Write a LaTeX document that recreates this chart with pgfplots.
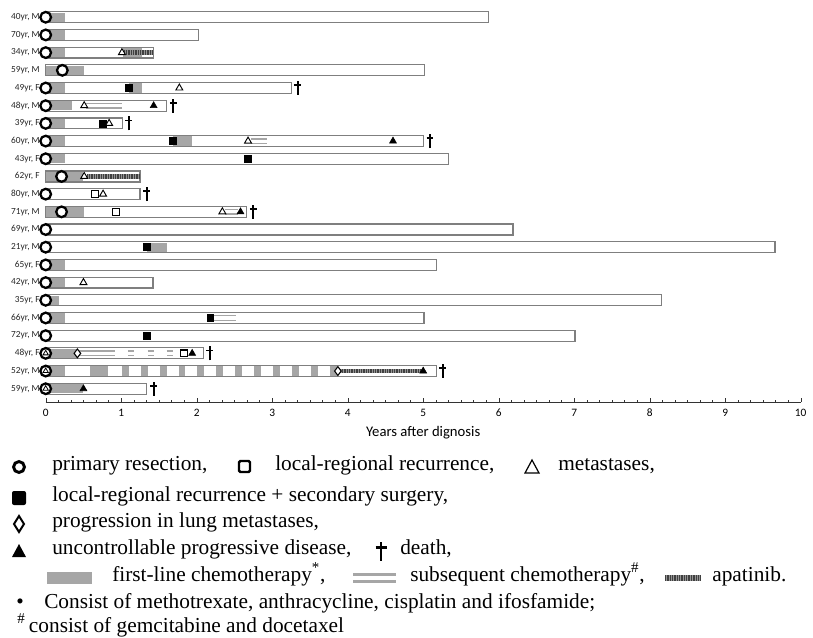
\documentclass[border=0pt]{standalone}
\usepackage{fontspec}
\setmainfont{Liberation Serif}
\newfontfamily\calfont{Carlito}
\usepackage{pgfplots}
\pgfplotsset{compat=1.18}
\definecolor{chemo}{HTML}{A6A6A6}
\definecolor{barline}{HTML}{7F7F7F}
\pgfdeclareplotmark{dagger}{%
  \pgfsetbuttcap
  \pgfsetlinewidth{1.5pt}%
  \pgfpathmoveto{\pgfqpoint{0pt}{-5.2pt}}%
  \pgfpathlineto{\pgfqpoint{0pt}{5.2pt}}%
  \pgfusepathqstroke
  \pgfsetlinewidth{1.2pt}%
  \pgfpathmoveto{\pgfqpoint{-2.6pt}{2.2pt}}%
  \pgfpathlineto{\pgfqpoint{2.6pt}{2.2pt}}%
  \pgfusepathqstroke}
\begin{document}
\begin{tikzpicture}
\path[use as bounding box] (0,0) rectangle (609.75pt,-478.5pt);
\begin{axis}[
  at={(34.275pt,-301.5pt)}, anchor=south west,
  scale only axis, width=566.25pt, height=295.2pt,
  xmin=0, xmax=10, ymin=0.25, ymax=22.5,
  axis lines*=left, axis line style={-, black!80},
  y axis line style={draw=none},
  xtick={0,...,10}, minor x tick num=5,
  tick align=inside, major tick length=3pt, minor tick length=1.8pt,
  tick style={black!80},
  ytick={1,...,22}, ytick style={draw=none},
  yticklabels={{59yr, M},{52yr, M},{48yr, F},{72yr, M},{66yr, M},{35yr, F},{42yr, M},{65yr, F},{21yr, M},{69yr, M},{71yr, M},{80yr, M},{62yr, F},{43yr, F},{60yr, M},{39yr, F},{48yr, M},{49yr, F},{59yr, M},{34yr, M},{70yr, M},{40yr, M}},
  yticklabel style={anchor=east, inner sep=0pt, xshift=-4.3pt, font=\calfont\fontsize{7}{8}\selectfont, text=black!85},
  xticklabel style={anchor=center, yshift=-8.25pt, font=\calfont\fontsize{8.5}{10}\selectfont},
  /pgf/number format/assume math mode=true,
  xlabel={Years after dignosis},
  xlabel style={at={(axis description cs:0.5,0)}, anchor=center, yshift=-23pt, font=\calfont\fontsize{11}{13}\selectfont},
  clip=false,
]
% follow-up bars
\addplot[xbar, bar width=8.2pt, fill=white, draw=barline, line width=0.9pt] table {
x y
5.86 22
2.02 21
1.43 20
5.02 19
3.26 18
1.60 17
1.02 16
5.00 15
5.33 14
1.25 13
1.25 12
2.66 11
6.19 10
9.66 9
5.18 8
1.42 7
8.16 6
5.01 5
7.01 4
2.09 3
5.18 2
1.34 1
};
% first-line chemotherapy
\addplot[chemo, line width=7pt, no marks, empty line=jump, unbounded coords=jump] table {
x y
0 22
0.26 22

0 21
0.26 21

0 20
0.26 20

1.03 20
1.27 20

0 19
0.51 19

0 18
0.26 18

1.10 18
1.27 18

0 17
0.35 17

0 16
0.26 16

0 15
0.26 15

1.68 15
1.94 15

0 14
0.26 14

0 13
0.50 13

0 11
0.51 11

1.34 9
1.60 9

0 8
0.26 8

0 7
0.26 7

0 6
0.18 6

0 5
0.26 5

0 3
0.42 3

0 2
0.26 2

0.59 2
0.82 2

1.01 2
1.10 2

1.26 2
1.35 2

1.51 2
1.60 2

1.76 2
1.85 2

2.01 2
2.10 2

2.26 2
2.35 2

2.51 2
2.60 2

2.76 2
2.85 2

3.01 2
3.10 2

3.26 2
3.35 2

3.51 2
3.60 2

3.76 2
3.87 2

0 1
0.50 1
};
% subsequent chemotherapy
\addplot[chemo, line width=1.1pt, double=white, double distance=2.3pt, no marks, empty line=jump, unbounded coords=jump] table {
x y
0.54 17
1.01 17

2.72 15
2.93 15

2.38 11
2.55 11

2.22 5
2.52 5

0.44 3
0.92 3

1.09 3
1.17 3

1.35 3
1.43 3

1.60 3
1.68 3
};
% apatinib
\addplot[chemo!90!black, line width=3.2pt, no marks, empty line=jump, unbounded coords=jump] table {
x y
1.04 20
1.42 20

0.55 13
1.24 13

3.90 2
4.98 2
};
\addplot[black!75, line width=3.2pt, dash pattern=on 0.55pt off 0.75pt, no marks, empty line=jump, unbounded coords=jump] table {
x y
1.04 20
1.42 20

0.55 13
1.24 13

3.90 2
4.98 2
};
% local-regional recurrence + secondary surgery
\addplot[only marks, mark=square*, mark size=2.6pt, mark options={fill=black, draw=black}] coordinates {
(1.10,18) (0.76,16) (1.68,15) (2.68,14) (1.34,9) (2.18,5) (1.34,4)};
% local-regional recurrence
\addplot[only marks, mark=square*, mark size=2.5pt, mark options={fill=white, draw=black, line width=0.9pt}] coordinates {
(0.65,12) (0.93,11) (1.83,3)};
% metastases
\addplot[only marks, mark=triangle*, mark size=3pt, mark options={fill=white, draw=black, line width=0.7pt}] coordinates {
(1.01,20) (1.77,18) (0.51,17) (0.84,16) (2.68,15) (0.51,13) (0.76,12) (2.34,11) (0.50,7)};
% progression in lung metastases
\addplot[only marks, mark=diamond*, mark size=3.3pt, mark options={fill=white, draw=black, line width=0.8pt}] coordinates {
(0.42,3) (3.87,2)};
% uncontrollable progressive disease
\addplot[only marks, mark=triangle*, mark size=3pt, mark options={fill=black, draw=black}] coordinates {
(1.43,17) (4.60,15) (2.58,11) (1.94,3) (5.00,2) (0.50,1)};
% primary resection
\addplot[only marks, mark=*, mark size=4pt, mark options={fill=white, draw=black, line width=1.7pt}] coordinates {
(0,22) (0,21) (0,20) (0.22,19) (0,18) (0,17) (0,16) (0,15) (0,14) (0.21,13) (0,12) (0.21,11) (0,10) (0,9) (0,8) (0,7) (0,6) (0,5) (0,4) (0,3) (0,2) (0,1)};
\addplot[only marks, mark=triangle, mark size=2.3pt, mark options={draw=black, line width=0.6pt}] coordinates {
(0,3) (0,2) (0,1)};
% death
\addplot[only marks, mark=dagger] coordinates {
(3.34,18) (1.69,17) (1.10,16) (5.09,15) (1.34,12) (2.75,11) (2.17,3) (5.26,2) (1.43,1)};
\end{axis}
\begin{scope}[x=0.75pt, y=-0.75pt, every node/.style={anchor=mid west, inner sep=0pt, font=\fontsize{16}{19}\selectfont}]
\draw[line width=2.2pt] (19,467) circle (4.1pt);
\node at (52,467) {primary resection,};
\draw[line width=1.8pt, rounded corners=1pt] (239,461) rectangle (250,472);
\node at (275,467) {local-regional recurrence,};
\draw[line width=0.9pt] (525,473) -- (539,473) -- (532,460) -- cycle;
\node at (558,467) {metastases,};
\fill[rounded corners=1.5pt] (12,491) rectangle (26,505);
\node at (52,498) {local-regional recurrence + secondary surgery,};
\draw[line width=1.5pt] (19,516) -- (24,524) -- (19,532) -- (14,524) -- cycle;
\node at (52,524) {progression in lung metastases,};
\fill (12,557) -- (26,557) -- (19,544) -- cycle;
\node at (52,551) {uncontrollable progressive disease,};
\draw[line width=2pt] (381,542) -- (381,561);
\draw[line width=1.6pt] (375.5,547.5) -- (386.5,547.5);
\node at (400,551) {death,};
\fill[chemo] (47,572) rectangle (92,584);
\node at (112,578) {first-line chemotherapy\textsuperscript{*},};
\draw[chemo, line width=2.2pt] (353,574.5) -- (396,574.5) (353,581.5) -- (396,581.5);
\node at (410,578) {subsequent chemotherapy\textsuperscript{\#},};
\fill[chemo!90!black] (665,575) rectangle (700,581);
\draw[black!75, line width=4.5pt, dash pattern=on 0.55pt off 0.75pt] (665,578) -- (700,578);
\node at (712,578) {apatinib.};
\node at (16,605) {•};
\node at (44,605) {Consist of methotrexate, anthracycline, cisplatin and ifosfamide;};
\node at (17,629) {\textsuperscript{\#}\,consist of gemcitabine and docetaxel};
\end{scope}
\end{tikzpicture}
\end{document}
